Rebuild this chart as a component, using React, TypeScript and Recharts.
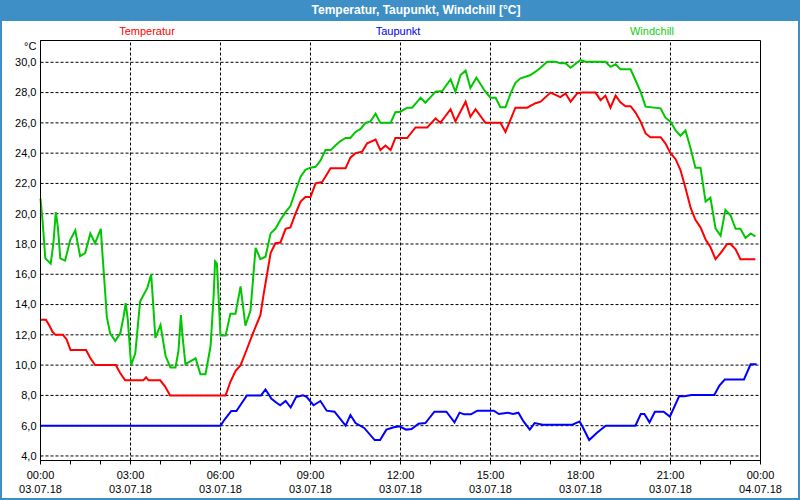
import React from 'react';
import { LineChart, Line, XAxis, YAxis, CartesianGrid, ReferenceLine, ReferenceArea } from 'recharts';

// ---- Data (hours since 00:00 on 03.07.18, values in °C) ----
const tempHours = [0, 0.18, 0.3, 0.4, 0.5, 0.75, 0.87, 1.0, 1.52, 1.65, 1.82, 2.51, 2.65, 2.82, 3.43, 3.52, 3.6, 3.99, 4.15, 4.32, 6.17, 6.33, 6.5, 6.67, 6.83, 7.06, 7.33, 7.44, 7.56, 7.67, 7.83, 8.0, 8.17, 8.33, 8.5, 8.67, 8.83, 9.0, 9.17, 9.39, 9.67, 10.17, 10.33, 10.5, 10.72, 10.89, 11.17, 11.33, 11.5, 11.67, 11.83, 12.22, 12.5, 12.89, 13.17, 13.33, 13.67, 13.83, 14.17, 14.33, 14.5, 14.83, 15.33, 15.5, 15.83, 16.22, 16.5, 16.67, 17.0, 17.33, 17.5, 17.67, 17.89, 18.06, 18.5, 18.67, 18.83, 19.0, 19.17, 19.33, 19.5, 19.67, 19.83, 20.0, 20.17, 20.33, 20.67, 20.83, 21.0, 21.17, 21.33, 21.5, 21.67, 21.83, 22.0, 22.17, 22.33, 22.5, 22.67, 22.89, 23.0, 23.17, 23.33, 23.83];
const tempValues = [13.0, 13.0, 12.6, 12.2, 12.0, 12.0, 11.7, 11.0, 11.0, 10.5, 10.0, 10.0, 9.5, 9.0, 9.0, 9.2, 9.0, 9.0, 8.6, 8.0, 8.0, 8.9, 9.6, 10.0, 10.8, 12.0, 13.3, 14.7, 16.1, 17.4, 18.05, 18.1, 19.0, 19.1, 20.0, 20.8, 21.1, 21.1, 22.0, 22.1, 23.0, 23.0, 23.7, 24.0, 24.1, 24.65, 24.9, 24.2, 24.5, 24.2, 25.0, 25.0, 25.7, 25.7, 26.3, 26.0, 26.9, 26.1, 27.4, 26.4, 26.9, 26.0, 26.0, 25.4, 27.0, 27.0, 27.3, 27.4, 28.0, 27.7, 27.95, 27.4, 27.95, 28.0, 28.0, 27.5, 27.8, 27.0, 27.8, 27.36, 27.1, 27.1, 26.7, 26.1, 25.3, 25.05, 25.05, 24.65, 24.0, 23.6, 22.9, 21.7, 20.4, 19.6, 19.1, 18.3, 17.8, 17.0, 17.4, 18.0, 18.0, 17.65, 17.0, 17.0];

const dewHours = [0, 6.0, 6.13, 6.36, 6.53, 6.88, 7.35, 7.5, 7.7, 7.88, 7.99, 8.17, 8.34, 8.52, 8.75, 8.87, 9.1, 9.33, 9.54, 9.8, 10.17, 10.33, 10.5, 10.79, 11.14, 11.32, 11.53, 11.78, 11.96, 12.19, 12.37, 12.6, 12.83, 13.13, 13.53, 13.8, 13.97, 14.12, 14.35, 14.56, 15.11, 15.28, 15.58, 15.75, 15.93, 16.1, 16.31, 16.47, 16.74, 17.73, 17.97, 18.06, 18.29, 18.55, 18.84, 19.83, 20.01, 20.13, 20.3, 20.48, 20.77, 20.98, 21.29, 21.47, 21.7, 22.46, 22.63, 22.81, 23.45, 23.67, 23.87];
const dewValues = [6.0, 6.0, 6.39, 6.97, 6.97, 8.0, 8.0, 8.39, 7.78, 7.5, 7.35, 7.63, 7.2, 7.89, 8.0, 7.9, 7.35, 7.63, 6.99, 6.92, 6.0, 6.7, 6.17, 5.85, 5.05, 5.05, 5.74, 5.9, 5.96, 5.74, 5.78, 6.13, 6.17, 6.92, 6.92, 6.22, 6.86, 6.75, 6.75, 6.99, 6.99, 6.77, 6.86, 6.77, 6.86, 6.28, 5.74, 6.17, 6.06, 6.06, 6.28, 5.96, 5.05, 5.53, 6.0, 6.0, 6.77, 6.77, 6.22, 6.92, 6.92, 6.6, 7.96, 7.94, 8.02, 8.02, 8.65, 9.05, 9.05, 10.05, 10.05];

const chillHours = [0, 0.07, 0.16, 0.34, 0.43, 0.51, 0.58, 0.66, 0.82, 0.99, 1.16, 1.32, 1.49, 1.66, 1.82, 2.01, 2.07, 2.16, 2.21, 2.32, 2.49, 2.66, 2.77, 2.84, 2.91, 3.02, 3.16, 3.32, 3.56, 3.69, 3.83, 4.0, 4.17, 4.33, 4.5, 4.6, 4.68, 4.73, 4.83, 5.17, 5.33, 5.5, 5.67, 5.77, 5.82, 5.88, 6.0, 6.17, 6.33, 6.5, 6.67, 6.83, 7.0, 7.17, 7.33, 7.5, 7.67, 7.83, 8.0, 8.17, 8.33, 8.5, 8.67, 8.83, 9.0, 9.17, 9.33, 9.5, 9.67, 9.83, 10.0, 10.17, 10.33, 10.5, 10.67, 10.83, 11.0, 11.17, 11.33, 11.67, 11.83, 12.0, 12.22, 12.39, 12.67, 12.83, 13.17, 13.39, 13.67, 13.83, 14.0, 14.17, 14.33, 14.53, 14.83, 15.0, 15.17, 15.33, 15.5, 15.67, 15.83, 16.0, 16.17, 16.33, 16.5, 16.67, 16.89, 17.17, 17.33, 17.5, 17.67, 18.0, 18.17, 18.83, 19.0, 19.17, 19.33, 19.67, 19.83, 20.0, 20.17, 20.67, 20.83, 21.0, 21.17, 21.33, 21.5, 21.67, 21.83, 22.0, 22.17, 22.33, 22.5, 22.67, 22.83, 23.0, 23.17, 23.33, 23.5, 23.67, 23.83];
const chillValues = [21.0, 19.5, 17.05, 16.7, 18.05, 20.1, 19.1, 17.05, 16.9, 18.26, 18.9, 17.2, 17.4, 18.7, 18.05, 19.0, 17.2, 14.7, 13.2, 12.1, 11.6, 12.1, 13.2, 14.1, 13.0, 10.0, 10.78, 14.2, 15.1, 16.0, 11.8, 12.65, 10.6, 9.85, 9.85, 10.96, 13.3, 12.0, 10.06, 10.45, 9.4, 9.4, 11.26, 14.56, 16.86, 16.7, 11.95, 11.95, 13.4, 13.4, 15.2, 12.6, 13.6, 17.75, 17.0, 17.16, 18.7, 19.0, 19.6, 20.1, 20.5, 21.5, 22.45, 22.9, 23.04, 23.1, 23.5, 24.2, 24.2, 24.5, 24.8, 25.0, 25.0, 25.4, 25.6, 26.0, 26.1, 26.6, 26.0, 26.0, 26.7, 26.74, 27.0, 27.0, 27.66, 27.33, 28.06, 28.1, 28.88, 28.06, 29.16, 29.45, 28.3, 28.98, 28.06, 27.66, 27.66, 27.03, 27.03, 27.95, 28.65, 28.94, 29.05, 29.16, 29.38, 29.64, 30.04, 30.04, 29.93, 29.93, 29.64, 30.15, 30.04, 30.04, 29.7, 29.87, 29.54, 29.54, 28.83, 28.06, 27.07, 26.96, 26.34, 26.08, 25.5, 25.15, 25.5, 24.3, 23.04, 23.04, 20.8, 21.06, 19.04, 18.55, 20.26, 19.9, 19.0, 19.0, 18.4, 18.7, 18.5];

const yTicks = [4, 6, 8, 10, 12, 14, 16, 18, 20, 22, 24, 26, 28, 30];
const yDomain = [3.7, 31.44];
const xHourTicks = [0, 1, 2, 3, 4, 5, 6, 7, 8, 9, 10, 11, 12, 13, 14, 15, 16, 17, 18, 19, 20, 21, 22, 23, 24];
const xGridHours = [3, 6, 9, 12, 15, 18, 21];
const xLabelHours = [0, 3, 6, 9, 12, 15, 18, 21, 24];
const xTimeLabels = ['00:00', '03:00', '06:00', '09:00', '12:00', '15:00', '18:00', '21:00', '00:00'];
const xDateLabels = ['03.07.18', '03.07.18', '03.07.18', '03.07.18', '03.07.18', '03.07.18', '03.07.18', '03.07.18', '04.07.18'];

const seriesNames = ['Temperatur', 'Taupunkt', 'Windchill'];
const seriesColors = ['#ff0000', '#0000ff', '#00c800'];
const legendColors = ['#ff0000', '#0000ee', '#11cc11'];

const toData = (hs: number[], vs: number[]) => hs.map((h, i) => ({ h, v: vs[i] }));
const tempData = toData(tempHours, tempValues);
const dewData = toData(dewHours, dewValues);
const chillData = toData(chillHours, chillValues);

const FONT = '"Liberation Sans", Arial, sans-serif';

const XTick = (props: any) => {
  const { x, y, payload } = props;
  const i = xLabelHours.indexOf(payload.value);
  if (i < 0) return <g />;
  return (
    <g>
      <text x={x} y={y + 14} textAnchor="middle" fontSize={11} fill="#000" fontFamily={FONT}>{xTimeLabels[i]}</text>
      <text x={x} y={y + 28.5} textAnchor="middle" fontSize={11} fill="#000" fontFamily={FONT}>{xDateLabels[i]}</text>
    </g>
  );
};

const fmtY = (v: number) => v.toFixed(1).replace('.', ',');

export default function App() {
  const blue = '#3d8fc6';
  return (
    <div style={{ position: 'absolute', left: 0, top: 0, width: 800, height: 500, background: '#fff', fontFamily: FONT }}>
      <div style={{ position: 'absolute', left: 0, top: 0, width: 800, height: 21, background: blue }} />
      <div style={{ position: 'absolute', left: 0, top: 0, width: 2, height: 500, background: blue }} />
      <div style={{ position: 'absolute', right: 0, top: 0, width: 2, height: 500, background: blue }} />
      <div style={{ position: 'absolute', left: 0, bottom: 0, width: 800, height: 2, background: blue }} />
      <div style={{ position: 'absolute', left: 416, top: 3, transform: 'translateX(-50%)', color: '#fff', fontWeight: 'bold', fontSize: 12, whiteSpace: 'nowrap', lineHeight: '14px' }}>
        Temperatur, Taupunkt, Windchill [°C]
      </div>
      <div style={{ position: 'absolute', left: 147, top: 25, transform: 'translateX(-50%)', color: legendColors[0], fontSize: 11, lineHeight: '13px', whiteSpace: 'nowrap' }}>{seriesNames[0]}</div>
      <div style={{ position: 'absolute', left: 398, top: 25, transform: 'translateX(-50%)', color: legendColors[1], fontSize: 11, lineHeight: '13px', whiteSpace: 'nowrap' }}>{seriesNames[1]}</div>
      <div style={{ position: 'absolute', left: 652, top: 25, transform: 'translateX(-50%)', color: legendColors[2], fontSize: 11, lineHeight: '13px', whiteSpace: 'nowrap' }}>{seriesNames[2]}</div>
      <div style={{ position: 'absolute', left: 24, top: 40, color: '#000', fontSize: 11, lineHeight: '13px', whiteSpace: 'nowrap' }}>°C</div>
      <div style={{ position: 'absolute', left: 0, top: 0 }}>
        <LineChart width={800} height={500} margin={{ top: 40.5, right: 39.5, bottom: 0, left: 0 }}>
          <CartesianGrid vertical={false} stroke="#000" strokeDasharray="3 2" />
          {xGridHours.map((h) => (
            <ReferenceLine key={h} x={h} stroke="#000" strokeDasharray="3 2" />
          ))}
          <XAxis
            type="number"
            dataKey="h"
            domain={[0, 24]}
            ticks={xHourTicks}
            interval={0}
            allowDuplicatedCategory={false}
            height={39.5}
            tickSize={4}
            tickMargin={0}
            tickLine={{ stroke: '#000' }}
            axisLine={{ stroke: '#000' }}
            tick={<XTick />}
          />
          <YAxis
            type="number"
            domain={yDomain}
            ticks={yTicks}
            interval={0}
            width={40.5}
            tickSize={0}
            tickMargin={4}
            tickLine={false}
            axisLine={{ stroke: '#000' }}
            tickFormatter={fmtY}
            tick={{ fontSize: 11, fill: '#000', fontFamily: FONT }}
          />
          <ReferenceArea x1={0} x2={24} y1={yDomain[0]} y2={yDomain[1]} fill="none" stroke="#000" strokeOpacity={1} ifOverflow="visible" />
          <Line data={chillData} dataKey="v" name={seriesNames[2]} type="linear" stroke={seriesColors[2]} strokeWidth={2} dot={false} isAnimationActive={false} />
          <Line data={tempData} dataKey="v" name={seriesNames[0]} type="linear" stroke={seriesColors[0]} strokeWidth={2} dot={false} isAnimationActive={false} />
          <Line data={dewData} dataKey="v" name={seriesNames[1]} type="linear" stroke={seriesColors[1]} strokeWidth={2} dot={false} isAnimationActive={false} />
        </LineChart>
      </div>
    </div>
  );
}
